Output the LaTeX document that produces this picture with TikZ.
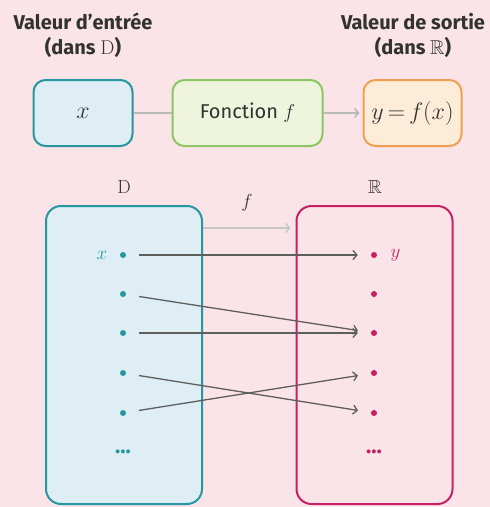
\RequirePackage{fix-cm}
\documentclass[tikz,border=0pt]{standalone}
\usepackage{amsmath,amssymb}
\usepackage[no-math]{fontspec}
\setmainfont{Fira Sans}
\usepackage{tikz}
\usetikzlibrary{arrows.meta, positioning}

\definecolor{bgpink}{RGB}{251,228,231}
\definecolor{tealc}{RGB}{38,150,160}
\definecolor{tealfill}{RGB}{222,238,244}
\definecolor{greenc}{RGB}{140,198,100}
\definecolor{greenfill}{RGB}{238,245,220}
\definecolor{orangec}{RGB}{240,160,80}
\definecolor{orangefill}{RGB}{252,236,216}
\definecolor{magc}{RGB}{200,30,100}
\definecolor{darkc}{RGB}{50,50,50}

\begin{document}
\begin{tikzpicture}[
      x=1pt, y=-1pt,
      box/.style={draw, rounded corners=12pt, line width=2pt, minimum height=66pt,
                  font=\fontsize{20}{24}\selectfont, text=darkc},
      inbox/.style={box, draw=tealc, fill=tealfill, minimum width=99pt, font=\fontsize{24}{28}\selectfont},
      fbox/.style={box, draw=greenc, fill=greenfill, minimum width=150pt},
      outbox/.style={box, draw=orangec, fill=orangefill, minimum width=98pt, font=\fontsize{24}{28}\selectfont},
      set/.style={draw, rounded corners=15pt, line width=2pt, minimum width=156pt,
                  minimum height=298pt},
      ttl/.style={font=\bfseries\fontsize{20}{25}\selectfont, align=center, text=darkc},
      setlbl/.style={font=\fontsize{19}{22}\selectfont, text=darkc},
      pt/.style={circle, fill, inner sep=0pt, minimum size=6pt},
      more/.style={font=\bfseries\fontsize{22}{24}\selectfont},
      link/.style={draw=gray!55, line width=1.6pt},
      arr/.style={-{Straight Barb[length=4pt, width=9pt]}, line width=1.3pt, draw=gray!20!darkc!85,
                  shorten <=13pt, shorten >=13pt}]

    % background
    \fill[bgpink] (0,0) rectangle (490,507);

    % ============================================
    % top row: input -> function -> output
    % ============================================
    \node[ttl] (tin) at (83,35) {Valeur d'entrée\\(dans $\mathrm{D}$)};
    \node[ttl] (tout) at (413,35) {Valeur de sortie\\(dans $\mathbb{R}$)};

    \node[inbox] (bx) at (83,113) {$x$};
    \node[fbox] (bf) at (247.5,113) {Fonction $f$};
    \node[outbox] (by) at (412.5,113) {$y\,{=}\,f(x)$};

    \draw[link] (bx) -- (bf);
    \draw[link, -{Straight Barb[length=4pt, width=9pt]}, shorten >=3pt] (bf) -- (by);

    % ============================================
    % bottom: the two sets
    % ============================================
    \node[set, draw=tealc, fill=tealfill] (lset) at (124,355) {};
    \node[set, draw=magc, fill=bgpink] (rset) at (374.5,355) {};

    \node[setlbl] (dl) at (124,187) {$\mathrm{D}$};
    \node[setlbl] (rl) at (375,187) {$\mathbb{R}$};
    \node[setlbl] (fl) at (247,203) {$f$};

    \draw[link, line width=1.3pt, draw=gray!45, -{Straight Barb[length=4pt, width=9pt]}, shorten >=5pt]
        ([yshift=-23pt]lset.north east) -- ([yshift=-23pt]rset.north west);

    % elements of each set
    \foreach \i/\y in {1/255, 2/294, 3/333, 4/373, 5/413} {
        \node[pt, tealc] (l\i) at (123,\y) {};
        \node[pt, magc] (r\i) at (374,\y) {};
    }
    \node[more, text=tealc] (ldots) at (123,452) {...};
    \node[more, text=magc] (rdots) at (374,452) {...};

    \node[setlbl, text=tealc, left=9pt of l1] (xl) {$x$};
    \node[setlbl, text=magc, right=10pt of r1] (yl) {$y$};

    % images under f
    \foreach \a/\b in {1/1, 2/3, 3/3, 4/5, 5/4} {
        \draw[arr] (l\a) -- (r\b);
    }

\end{tikzpicture}
\end{document}
